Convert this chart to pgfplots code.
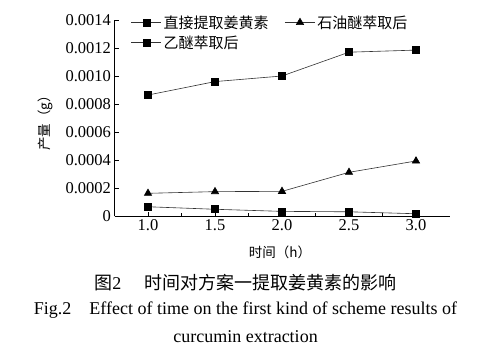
\documentclass[border=0pt]{standalone}
\usepackage{pgfplots}
\pgfplotsset{compat=1.18}
\usepackage{fontspec}
\setmainfont{Liberation Serif}
\newfontfamily\cjk{Noto Sans CJK SC}
\begin{document}
\begin{tikzpicture}
\useasboundingbox (0,0) rectangle (479pt,352pt);
\fill[white] (0,0) rectangle (479pt,352pt);
\begin{axis}[
  at={(114.5pt,136pt)}, anchor=south west,
  scale only axis, width=335pt, height=196pt,
  xmin=0.75, xmax=3.25, ymin=0, ymax=0.0014,
  axis lines*=left,
  axis line style={line width=0.8pt, black},
  xtick={1,1.5,2,2.5,3}, xticklabels={1.0,1.5,2.0,2.5,3.0},
  minor x tick num=1,
  ytick={0,0.0002,0.0004,0.0006,0.0008,0.0010,0.0012,0.0014},
  yticklabels={0,0.0002,0.0004,0.0006,0.0008,0.0010,0.0012,0.0014},
  scaled y ticks=false,
  tick align=inside,
  major tick length=4pt, minor tick length=3pt,
  tick style={black, line width=0.6pt},
  ticklabel style={font=\fontsize{16.5}{16.5}\selectfont},
  /pgf/number format/assume math mode=true,
  xlabel={\cjk 时间（h）},
  xlabel style={at={(axis description cs:0.494,-0.184)}, anchor=center, font=\fontsize{13.5}{13.5}\selectfont},
  ylabel={\cjk 产量（g）},
  ylabel style={at={(axis description cs:-0.207,0.49)}, anchor=center, font=\fontsize{13.5}{13.5}\selectfont},
  legend columns=2,
  legend cell align=left,
  legend style={at={(axis description cs:0.04,1.045)}, anchor=north west, draw=none, fill=none,
    font=\cjk\fontsize{15}{16}\selectfont, row sep=2pt,
    /tikz/every even column/.append style={column sep=14pt}},
  legend image code/.code={\draw[mark repeat=2,mark phase=2] plot coordinates {(0pt,0pt)(15pt,0pt)(30pt,0pt)};},
]
\addplot[color=black!80, line width=0.6pt, mark=square*, mark size=3.5pt, mark options={fill=black, draw=black}]
  coordinates {(1.0,0.000864)(1.5,0.000960)(2.0,0.001000)(2.5,0.001170)(3.0,0.001185)};
\addlegendentry{直接提取姜黄素}
\addplot[color=black!80, line width=0.6pt, mark=triangle*, mark size=4.2pt, mark options={fill=black, draw=black}]
  coordinates {(1.0,0.000162)(1.5,0.000174)(2.0,0.000176)(2.5,0.000312)(3.0,0.000393)};
\addlegendentry{石油醚萃取后}
\addplot[color=black!80, line width=0.6pt, mark=square*, mark size=3.5pt, mark options={fill=black, draw=black}]
  coordinates {(1.0,0.000066)(1.5,0.000048)(2.0,0.000033)(2.5,0.000030)(3.0,0.000016)};
\addlegendentry{乙醚萃取后}
\end{axis}
\node[font=\fontsize{18}{18}\selectfont] at (245.5pt,69pt) {{\cjk 图}2\hspace{1.3em}{\cjk 时间对方案一提取姜黄素的影响}};
\node[font=\fontsize{18}{18}\selectfont] at (245.5pt,42pt) {Fig.2\hspace{1em}Effect of time on the first kind of scheme results of};
\node[font=\fontsize{18}{18}\selectfont] at (245.5pt,15pt) {curcumin extraction};
\end{tikzpicture}
\end{document}
